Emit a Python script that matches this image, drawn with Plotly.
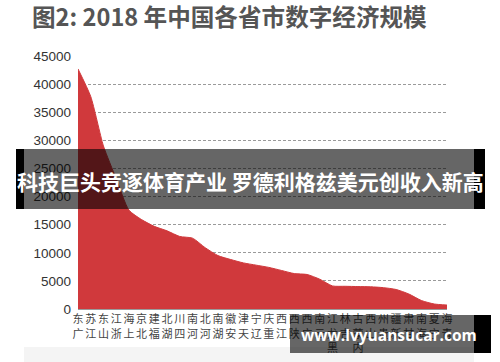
import plotly.graph_objects as go

provinces = ["广东", "江苏", "山东", "浙江", "上海", "北京", "福建", "湖北", "四川", "河南",
             "河北", "湖南", "安徽", "天津", "辽宁", "重庆", "江西", "陕西", "广西", "云南",
             "黑龙江", "吉林", "内蒙古", "山西", "贵州", "新疆", "甘肃", "海南", "宁夏", "青海"]
values = [42700, 37800, 29000, 23200, 17600, 15900, 14700, 13900, 12900, 12600,
          10900, 9500, 8800, 8200, 7800, 7400, 6850, 6300, 6140, 5300,
          4100, 4040, 3990, 3950, 3800, 3470, 2670, 1500, 890, 700]
y_ticks = [0, 5000, 10000, 15000, 20000, 25000, 30000, 35000, 40000, 45000]

title_text = "图2: 2018 年中国各省市数字经济规模"
banner_text = "科技巨头竞逐体育产业 罗德利格兹美元创收入新高"
watermark_text = "www.lvyuansucar.com"

# vertical stacked labels as in the reference (last character on top)
tick_text = ["<br>".join(reversed(list(p))) for p in provinces]

W, H = 500, 362
L, R, T, B = 78, 447, 56, 309


def xp(px):
    return (px - L) / (R - L)


def yp(py):
    return (B - py) / (B - T)


fig = go.Figure()
fig.add_trace(go.Scatter(
    x=provinces, y=values, mode="lines", fill="tozeroy",
    line=dict(color="#d0393c", width=1, shape="spline", smoothing=0.6),
    fillcolor="#d0393c", hoverinfo="skip", showlegend=False,
))

shapes = [
    dict(type="rect", xref="paper", yref="paper", x0=xp(24), x1=xp(474), y0=yp(362), y1=yp(347),
         fillcolor="#f4f4f4", line=dict(width=0), layer="below"),
    dict(type="rect", xref="paper", yref="paper", x0=xp(24), x1=xp(474), y0=yp(209), y1=yp(149),
         fillcolor="rgba(0,0,0,0.6)", line=dict(width=0), layer="above"),
    dict(type="rect", xref="paper", yref="paper", x0=xp(16), x1=xp(24), y0=yp(209), y1=yp(149),
         fillcolor="#000000", line=dict(width=0), layer="above"),
    dict(type="rect", xref="paper", yref="paper", x0=xp(474), x1=xp(485), y0=yp(209), y1=yp(149),
         fillcolor="#000000", line=dict(width=0), layer="above"),
    dict(type="rect", xref="paper", yref="paper", x0=xp(290), x1=xp(474), y0=yp(353), y1=yp(315),
         fillcolor="rgba(0,0,0,0.6)", line=dict(width=0), layer="above"),
    dict(type="rect", xref="paper", yref="paper", x0=xp(474), x1=xp(491), y0=yp(353), y1=yp(315),
         fillcolor="#000000", line=dict(width=0), layer="above"),
]

annotations = [
    dict(text=f"<b>{banner_text}</b>", xref="paper", yref="paper", x=xp(250), y=yp(181),
         xanchor="center", yanchor="middle", showarrow=False,
         font=dict(family="Noto Sans CJK SC", size=21, color="#ffffff")),
    dict(text=f"<b>{watermark_text}</b>", xref="paper", yref="paper", x=xp(389), y=yp(335),
         xanchor="center", yanchor="middle", showarrow=False,
         font=dict(family="Open Sans", size=15.5, color="#ffffff")),
]

fig.update_layout(
    width=W, height=H,
    margin=dict(l=L, r=W - R, t=T, b=H - B, pad=0, autoexpand=False),
    paper_bgcolor="#ffffff", plot_bgcolor="#ffffff",
    title=dict(text=f"<b>{title_text}</b>", xref="container", yref="container",
               x=32 / W, xanchor="left", y=1 - 18 / H, yanchor="middle",
               font=dict(family="Noto Sans CJK SC", size=23.6, color="#555555")),
    shapes=shapes, annotations=annotations,
    xaxis=dict(type="category", range=[0, len(provinces) - 1], tickvals=provinces, ticktext=tick_text,
               tickangle=0, showgrid=False, zeroline=False, showline=True, linecolor="#9a9a9a",
               linewidth=1, ticks="", automargin=False,
               tickfont=dict(family="Noto Sans CJK SC", size=11, color="#444444")),
    yaxis=dict(range=[0, 45000], tickvals=y_ticks, ticktext=[str(v) for v in y_ticks],
               showgrid=True, gridcolor="#9a9a9a", griddash="3px,2px", gridwidth=1,
               zeroline=False, showline=False, ticks="", ticklabelstandoff=6, automargin=False,
               tickfont=dict(family="Liberation Sans", size=13.5, color="#333333")),
)

fig.write_html("out.html", config={"displayModeBar": False},
               post_script="document.body.style.margin='0';")
